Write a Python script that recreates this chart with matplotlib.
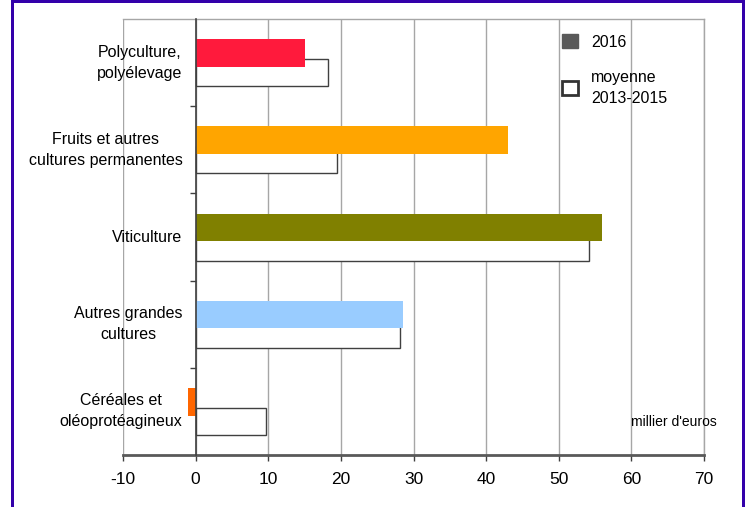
import matplotlib
matplotlib.use("Agg")
import matplotlib.pyplot as plt
from matplotlib.patches import Patch, Rectangle

plt.rcParams["font.family"] = ["Liberation Sans", "DejaVu Sans"]

# Values (millier d'euros)
categories = [
    "Polyculture,\npolyélevage",
    "Fruits et autres\ncultures permanentes",
    "Viticulture",
    "Autres grandes\ncultures",
    "Céréales et\noléoprotéagineux",
]
val_2016 = [15.0, 43.0, 56.0, 28.5, -1.1]
val_moyenne = [18.2, 19.5, 54.1, 28.2, 9.7]
colors_2016 = ["#FF1A3C", "#FFA500", "#808000", "#99CCFF", "#FF6600"]
xticks = [-10, 0, 10, 20, 30, 40, 50, 60, 70]

W, H = 746, 507
fig = plt.figure(figsize=(W / 100, H / 100), dpi=100)
ax = fig.add_axes([123 / W, (H - 455) / H, (704 - 123) / W, (455 - 19) / H])

y = list(range(len(categories)))
ax.barh([i + 0.115 for i in y], val_moyenne, height=0.31, color="white",
        edgecolor="#404040", linewidth=1.0, zorder=2)
ax.barh([i - 0.11 for i in y], val_2016, height=0.315, color=colors_2016,
        linewidth=0, zorder=3)

ax.set_xlim(-10, 70)
ax.set_ylim(len(categories) - 0.5, -0.5)
ax.set_xticks(xticks)
ax.set_xticklabels([str(t) for t in xticks])
ax.grid(axis="x", color="#A6A6A6", linewidth=1.0, zorder=0)
ax.set_axisbelow(True)

# vertical axis sits on zero
ax.spines["left"].set_position(("data", 0))
ax.spines["left"].set_color("#404040")
ax.spines["left"].set_linewidth(1.2)
ax.spines["left"].set_zorder(4)
for s in ["top", "right"]:
    ax.spines[s].set_color("#A6A6A6")
    ax.spines[s].set_linewidth(1.0)
ax.spines["bottom"].set_color("#595959")
ax.spines["bottom"].set_linewidth(2.0)

ax.set_yticks([i + 0.5 for i in y[:-1]])
ax.set_yticklabels([])
ax.tick_params(axis="y", direction="out", length=4, width=1, color="#404040")
ax.tick_params(axis="x", direction="out", length=4, width=1, color="#404040",
               labelsize=12.5, pad=8)

for i, lab in zip(y, categories):
    ax.text(-1.8, i, lab, ha="right", va="center", multialignment="center",
            fontsize=11.5, linespacing=1.5)

fig.text(631 / W, (H - 422) / H, "millier d'euros", ha="left", va="center",
         fontsize=10)

handles = [Patch(facecolor="#595959", edgecolor="#595959"),
           Patch(facecolor="white", edgecolor="#333333", linewidth=2)]
leg = ax.legend(handles, ["2016", "moyenne\n2013-2015"], loc="upper left",
                bbox_to_anchor=(562 / W, (H - 34) / H),
                bbox_transform=fig.transFigure,
                frameon=False, fontsize=11.5, handlelength=1.0,
                handleheight=1.0, handletextpad=0.8, labelspacing=1.25,
                borderpad=0, borderaxespad=0)
for t in leg.get_texts():
    t.set_linespacing(1.5)

# purple frame around the figure
frame = "#3300AA"
fig.add_artist(Rectangle((11 / W, 0), 2.5 / W, 1, transform=fig.transFigure,
                         color=frame, lw=0))
fig.add_artist(Rectangle((742 / W, 0), 3 / W, 1, transform=fig.transFigure,
                         color=frame, lw=0))
fig.add_artist(Rectangle((11 / W, (H - 3) / H), (745 - 11) / W, 3 / H,
                         transform=fig.transFigure, color=frame, lw=0))

fig.savefig("out.png", dpi=100)
